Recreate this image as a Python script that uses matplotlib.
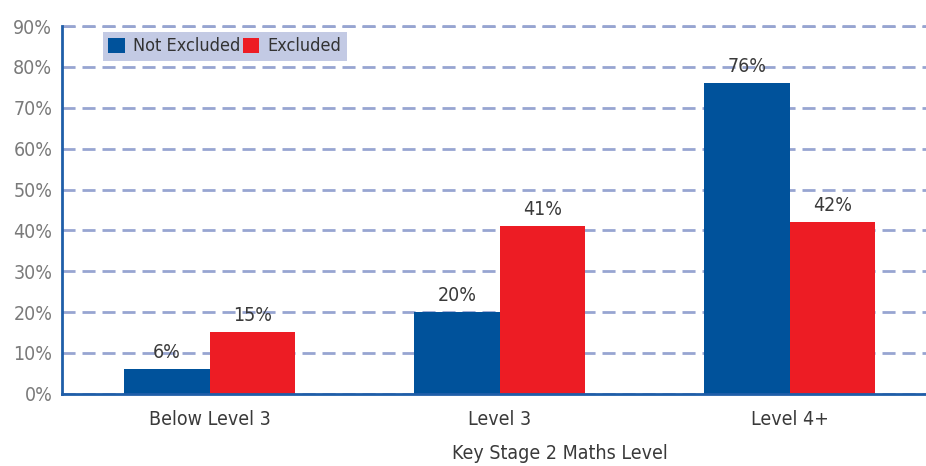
import matplotlib.pyplot as plt
import numpy as np

plt.rcParams['font.family'] = 'DejaVu Sans'
plt.rcParams['font.stretch'] = 'condensed'

levels = ['Below Level 3', 'Level 3', 'Level 4+']
not_excluded = [6, 20, 76]
excluded = [15, 41, 42]
series_names = ['Not Excluded', 'Excluded']

BLUE = '#00529b'
RED = '#ed1c24'
GRID = '#97a5d1'
DASH = (0, (4.7, 2.5))

fig = plt.figure(figsize=(9.26, 4.66), dpi=100)
ax = fig.add_axes([0.067, 0.155, 0.933, 0.789])

x = np.arange(len(levels))
w = 0.295
b1 = ax.bar(x - w / 2, not_excluded, w, color=BLUE, label=series_names[0], zorder=3)
b2 = ax.bar(x + w / 2, excluded, w, color=RED, label=series_names[1], zorder=3)

# value labels above each bar
for bars, vals in ((b1, not_excluded), (b2, excluded)):
    for rect, v in zip(bars, vals):
        ax.text(rect.get_x() + rect.get_width() / 2, v + 1.8, f'{v}%',
                ha='center', va='bottom', fontsize=14, color='#3a3a3a', zorder=4)

ax.set_xlim(-0.51, 2.47)
ax.set_ylim(0, 90)
ax.set_yticks(range(0, 91, 10))
ax.set_yticklabels([f'{t}%' for t in range(0, 91, 10)])
ax.tick_params(axis='y', length=0, labelsize=14, labelcolor='#7a7a7a', pad=7)
ax.set_xticks(x)
ax.set_xticklabels(levels)
ax.tick_params(axis='x', length=0, labelsize=14, labelcolor='#3a3a3a', pad=12)

ax.yaxis.grid(True, linestyle=DASH, color=GRID, linewidth=2, zorder=1)
ax.set_axisbelow(True)
for s in ('top', 'right'):
    ax.spines[s].set_visible(False)
for s in ('left', 'bottom'):
    ax.spines[s].set_color('#1f5ea8')
    ax.spines[s].set_linewidth(2)
    ax.spines[s].set_zorder(5)

# the 90% line sits on the top edge of the axes
ax.axhline(90, linestyle=DASH, color=GRID, linewidth=2, clip_on=False, zorder=1)

leg = ax.legend(loc='upper left', bbox_to_anchor=(0.0475, 0.984), borderaxespad=0,
                ncol=2, frameon=True, fancybox=False, fontsize=13, handlelength=0.9,
                handleheight=0.9, handletextpad=0.45, columnspacing=0.15,
                borderpad=0.3, labelcolor='#333333')
leg.get_frame().set_facecolor('#c3cae4')
leg.get_frame().set_edgecolor('none')
leg.get_frame().set_alpha(1)

fig.text(0.605, 0.006, 'Key Stage 2 Maths Level', ha='center', va='bottom',
         fontsize=14, color='#3a3a3a')

fig.savefig('out.png', dpi=100)
